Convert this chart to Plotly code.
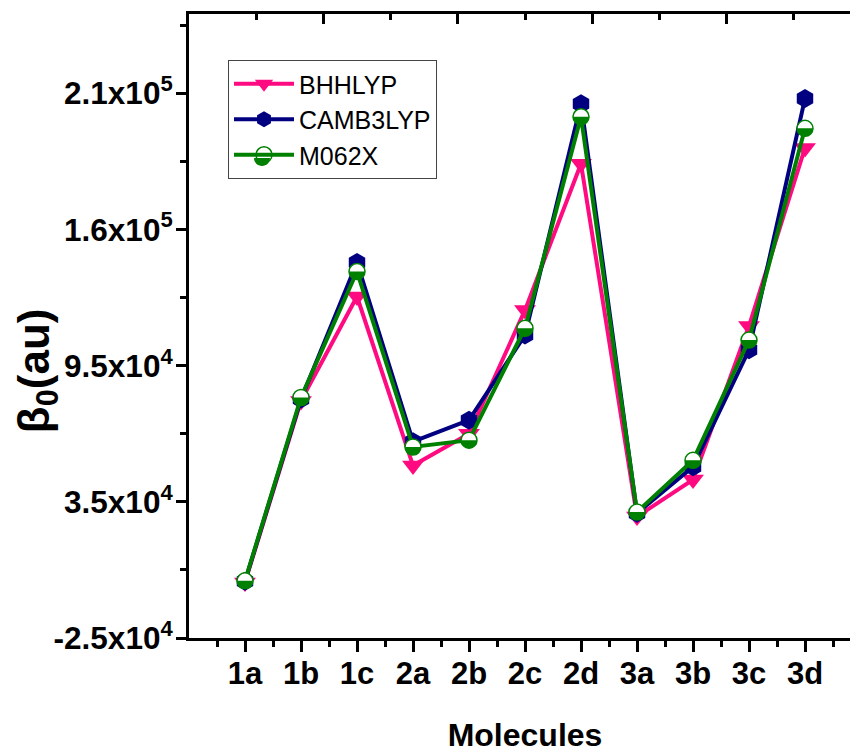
import plotly.graph_objects as go

categories = ["1a", "1b", "1c", "2a", "2b", "2c", "2d", "3a", "3b", "3c", "3d"]
bhhlyp = [-500, 79500, 125500, 51000, 65000, 119500, 184000, 28500, 44800, 112500, 191000]
camb3lyp = [0, 80300, 140500, 61500, 71000, 108500, 210500, 30000, 50500, 102000, 212800]
m062x = [200, 81000, 136500, 59200, 62200, 111500, 204700, 30500, 53300, 106300, 199600]

y_tickvals = [-25000, 35000, 95000, 155000, 215000]
y_ticktext = ["-2.5x10<sup>4</sup>", "3.5x10<sup>4</sup>", "9.5x10<sup>4</sup>",
              "1.6x10<sup>5</sup>", "2.1x10<sup>5</sup>"]
y_minor = [5000, 65000, 125000, 185000, 245000]

xs = list(range(len(categories)))
FONT = "Liberation Sans"
PINK, NAVY, GREEN = "#FF0A80", "#000080", "#008000"

# page body has an 8px margin; figure coords = screen coords - 8
W, H = 858, 753
L, R_M, T = 181, 5, 6
B = H - 629.7
pw = W - L - R_M
ph = H - T - B

# half-filled circle helpers (pixel paths relative to anchor)
R = 8.0
K = 0.5523 * R
lower_half = (f"M {-R},0 C {-R},{-K} {-K},{-R} 0,{-R} "
              f"C {K},{-R} {R},{-K} {R},0 Z")
full_circle = (f"M {-R},0 C {-R},{-K} {-K},{-R} 0,{-R} "
               f"C {K},{-R} {R},{-K} {R},0 "
               f"C {R},{K} {K},{R} 0,{R} C {-K},{R} {-R},{K} {-R},0 Z")

fig = go.Figure()
fig.add_trace(go.Scatter(
    x=xs, y=bhhlyp, name="BHHLYP", mode="lines+markers",
    line=dict(color=PINK, width=4),
    marker=dict(symbol="triangle-down", size=19, color=PINK),
))
fig.add_trace(go.Scatter(
    x=xs, y=camb3lyp, name="CAMB3LYP", mode="lines+markers",
    line=dict(color=NAVY, width=4),
    marker=dict(symbol="hexagon", size=19, color=NAVY),
))
# legend entry for M062X (marker fill transparent, half-fill drawn below)
fig.add_trace(go.Scatter(
    x=[None], y=[None], name="M062X", mode="lines+markers",
    line=dict(color=GREEN, width=4),
    marker=dict(symbol="circle", size=16, color="rgba(0,0,0,0)",
                line=dict(color=GREEN, width=1.5)),
))
fig.add_trace(go.Scatter(
    x=xs, y=m062x, name="M062X", mode="lines+markers", showlegend=False,
    line=dict(color=GREEN, width=4),
    marker=dict(symbol="circle", size=16, color="white",
                line=dict(color=GREEN, width=1.5)),
))
# helper trace to activate top/right tick axes
fig.add_trace(go.Scatter(x=[None], y=[None], xaxis="x2", yaxis="y2",
                         showlegend=False, hoverinfo="skip"))

shapes = []
for xv, yv in zip(xs, m062x):
    shapes.append(dict(type="path", xref="x", yref="y",
                       xsizemode="pixel", ysizemode="pixel",
                       xanchor=xv, yanchor=yv, path=lower_half,
                       fillcolor=GREEN, line=dict(width=0), layer="above"))

# legend placement (figure px)
leg_left, leg_top = 220, 52
lx = (leg_left + 34 - L) / pw
ly = (H - B - (leg_top + 98)) / ph
shapes.append(dict(type="path", xref="paper", yref="paper",
                   xsizemode="pixel", ysizemode="pixel",
                   xanchor=lx, yanchor=ly, path=full_circle,
                   fillcolor="white", line=dict(width=0), layer="above"))
shapes.append(dict(type="path", xref="paper", yref="paper",
                   xsizemode="pixel", ysizemode="pixel",
                   xanchor=lx, yanchor=ly, path=lower_half,
                   fillcolor=GREEN, line=dict(width=0), layer="above"))

fig.update_layout(
    template="none",
    width=W, height=H,
    margin=dict(l=L, r=R_M, t=T, b=B, pad=0),
    paper_bgcolor="white", plot_bgcolor="white",
    showlegend=True,
    legend=dict(x=(leg_left - L) / pw, y=(H - B - leg_top) / ph,
                xanchor="left", yanchor="top",
                bordercolor="#444", borderwidth=1, bgcolor="rgba(0,0,0,0)",
                font=dict(family=FONT, size=25, color="black"),
                itemwidth=60, tracegroupgap=0),
    shapes=shapes,
    xaxis=dict(
        automargin=False,
        range=[-1, 11],
        tickvals=xs, ticktext=categories,
        tickfont=dict(family=FONT, size=31, color="black", weight="bold"),
        ticks="outside", ticklen=11, tickwidth=3, tickcolor="black",
        ticklabelstandoff=-5,
        minor=dict(tickvals=[v + 0.5 for v in [-1] + xs], ticks="outside",
                   ticklen=6, tickwidth=3, tickcolor="black"),
        showline=True, linewidth=3, linecolor="black",
        showgrid=False, zeroline=False,
        title=dict(text="Molecules", standoff=34,
                   font=dict(family=FONT, size=32, color="black", weight="bold")),
    ),
    yaxis=dict(
        automargin=False,
        range=[-25000, 250000],
        tickvals=y_tickvals, ticktext=y_ticktext,
        tickfont=dict(family=FONT, size=31.5, color="black", weight="bold"),
        ticks="outside", ticklen=10, tickwidth=3, tickcolor="black",
        ticklabelstandoff=-3,
        minor=dict(tickvals=y_minor, ticks="outside", ticklen=6,
                   tickwidth=3, tickcolor="black"),
        showline=True, linewidth=3, linecolor="black",
        showgrid=False, zeroline=False,
    ),
    xaxis2=dict(
        automargin=False,
        overlaying="x", side="top", anchor="y2",
        range=[0, 5],
        tickvals=[0, 1, 2, 3, 4, 5], showticklabels=False,
        ticks="inside", ticklen=10, tickwidth=3, tickcolor="black",
        minor=dict(tickvals=[0.5, 1.5, 2.5, 3.5, 4.5], ticks="inside",
                   ticklen=6, tickwidth=3, tickcolor="black"),
        showline=True, linewidth=3, linecolor="black",
        showgrid=False, zeroline=False,
    ),
    yaxis2=dict(
        automargin=False,
        overlaying="y", side="right", anchor="x2",
        range=[0, 5],
        tickvals=[1, 2, 3, 4], showticklabels=False,
        ticks="inside", ticklen=10, tickwidth=3, tickcolor="black",
        minor=dict(tickvals=[0.5, 1.5, 2.5, 3.5, 4.5], ticks="inside",
                   ticklen=6, tickwidth=3, tickcolor="black"),
        showline=True, linewidth=3, linecolor="black",
        showgrid=False, zeroline=False,
    ),
    annotations=[dict(
        text="β<sub>0</sub>(au)", textangle=-90,
        xref="paper", yref="paper",
        x=(29 - L) / pw, y=(H - B - 363) / ph,
        xanchor="center", yanchor="middle", showarrow=False,
        font=dict(family=FONT, size=44, color="black", weight="bold"),
    )],
)

fig.write_html("out.html")
